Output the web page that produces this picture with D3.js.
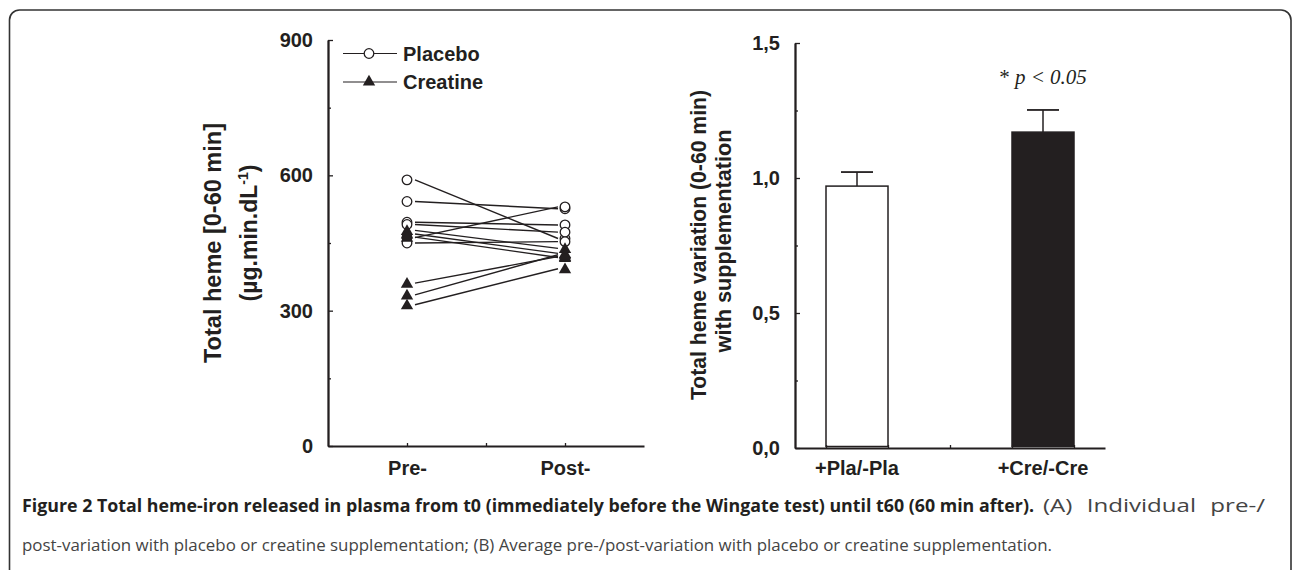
<!DOCTYPE html>
<html>
<head>
<meta charset="utf-8">
<script src="https://cdn.jsdelivr.net/npm/d3@7"></script>
<style>
  html, body { margin: 0; padding: 0; background: #fff; }
  svg { display: block; }
</style>
</head>
<body>
<svg id="chart" width="1292" height="570"></svg>
<script>
// ---------- DATA ----------
const timeCategories = ["Pre-", "Post-"];
const placeboPre  = [590, 542, 496, 491, 462, 450];
const placeboPost = [460, 526, 490, 474, 530, 453];
const creatinePre  = [478, 470, 463, 361, 335, 313];
const creatinePost = [438, 427, 418, 420, 424, 393];
const leftTicks = [0, 300, 600, 900];
const leftMinorTicks = [150, 450, 750];

const barCategories = ["+Pla/-Pla", "+Cre/-Cre"];
const barMeans  = [0.97, 1.17];
const barErrors = [0.052, 0.082];
const barFills  = ["#ffffff", "#231f20"];
const rightTicks = [0, 0.5, 1.0, 1.5];
const rightTickLabels = ["0,0", "0,5", "1,0", "1,5"];
const rightMinorTicks = [0.25, 0.75, 1.25];

const legendItems = ["Placebo", "Creatine"];
const captionBold = "Figure 2 Total heme-iron released in plasma from t0 (immediately before the Wingate test) until t60 (60 min after).";
const captionRest1 = "(A) Individual pre-/";
const captionLine2 = "post-variation with placebo or creatine supplementation; (B) Average pre-/post-variation with placebo or creatine supplementation.";

// ---------- SETUP ----------
const ink = "#231f20";
const svg = d3.select("#chart");
const font = "'Liberation Sans', Arial, Helvetica, sans-serif";
const tickFont = 20;

// frame
svg.append("path")
  .attr("d", "M9.5,570 V20 A10,10 0 0 1 19.5,10 H1281 A10,10 0 0 1 1291,20 V570")
  .attr("fill", "none").attr("stroke", "#333").attr("stroke-width", 1.6);

function styleAxis(g) {
  g.select(".domain").attr("stroke", ink).attr("stroke-width", 1.8);
  g.selectAll(".tick line").attr("stroke", ink).attr("stroke-width", 1.3);
  g.selectAll(".tick text").attr("fill", ink).attr("font-family", font)
    .attr("font-weight", "bold").attr("font-size", tickFont);
}

// ---------- LEFT PANEL ----------
const xL = d3.scaleLinear().domain([0, 4]).range([328, 644]);
const yL = d3.scaleLinear().domain([0, 900]).range([446, 40]);
const catPos = {"Pre-": 1, "Post-": 3};

const gL = svg.append("g");
gL.append("g").attr("transform", `translate(${xL(0)},0)`)
  .call(d3.axisLeft(yL).tickValues(leftMinorTicks).tickSizeInner(-3).tickSizeOuter(0).tickFormat(""))
  .call(styleAxis);
gL.append("g").attr("transform", `translate(${xL(0)},0)`)
  .call(d3.axisLeft(yL).tickValues(leftTicks).tickSizeInner(-5).tickSizeOuter(0).tickPadding(15).tickFormat(d3.format("d")))
  .call(styleAxis);
gL.append("g").attr("transform", `translate(0,${yL(0)})`)
  .call(d3.axisBottom(xL).tickValues([1, 2, 3]).tickSizeInner(-3).tickSizeOuter(0).tickPadding(15)
    .tickFormat(d => d === 1 ? timeCategories[0] : d === 3 ? timeCategories[1] : ""))
  .call(styleAxis);

// connecting lines
const pairs = [];
placeboPre.forEach((v, i) => pairs.push({pre: v, post: placeboPost[i], type: "p"}));
creatinePre.forEach((v, i) => pairs.push({pre: v, post: creatinePost[i], type: "c"}));
gL.append("g").selectAll("line").data(pairs).join("line")
  .attr("x1", xL(catPos["Pre-"]) + 8).attr("x2", xL(catPos["Post-"]) - 7)
  .attr("y1", d => yL(d.pre)).attr("y2", d => yL(d.post))
  .attr("stroke", ink).attr("stroke-width", 1.4);

const tri = d3.symbol().type(d3.symbolTriangle).size(66);
function drawCircles(g, xv, vals) {
  g.append("g").selectAll("circle").data(vals).join("circle")
    .attr("cx", xv).attr("cy", d => yL(d)).attr("r", 4.8)
    .attr("fill", "#fff").attr("stroke", ink).attr("stroke-width", 1.3);
}
function drawTriangles(g, xv, vals) {
  g.append("g").selectAll("path").data(vals).join("path")
    .attr("d", tri).attr("transform", d => `translate(${xv},${yL(d) + 1})`)
    .attr("fill", ink);
}
drawCircles(gL, xL(catPos["Pre-"]), placeboPre);
drawTriangles(gL, xL(catPos["Pre-"]), creatinePre);
drawCircles(gL, xL(catPos["Post-"]), placeboPost);
drawTriangles(gL, xL(catPos["Post-"]), creatinePost);

// legend
const leg = gL.append("g");
legendItems.forEach((name, i) => {
  const y = 53.5 + i * 28.5;
  leg.append("line").attr("x1", 343).attr("x2", 397).attr("y1", y).attr("y2", y)
    .attr("stroke", ink).attr("stroke-width", 1.2);
  if (i === 0) {
    leg.append("circle").attr("cx", 369).attr("cy", y).attr("r", 4.8)
      .attr("fill", "#fff").attr("stroke", ink).attr("stroke-width", 1.3);
  } else {
    leg.append("path").attr("d", tri).attr("transform", `translate(369,${y})`).attr("fill", ink);
  }
  leg.append("text").attr("x", 403).attr("y", y + 7).text(name)
    .attr("font-family", font).attr("font-weight", "bold").attr("font-size", 20).attr("fill", ink);
});

// left y title
gL.append("text").attr("transform", "translate(221,243) rotate(-90)")
  .attr("text-anchor", "middle").attr("font-family", font).attr("font-weight", "bold")
  .attr("font-size", 23).attr("fill", ink)
  .attr("textLength", 240).attr("lengthAdjust", "spacingAndGlyphs").text("Total heme [0-60 min]");
const tL2 = gL.append("text").attr("transform", "translate(257,233) rotate(-90)")
  .attr("text-anchor", "middle").attr("font-family", font).attr("font-weight", "bold")
  .attr("font-size", 23).attr("fill", ink);
tL2.append("tspan").text("(\u00b5g.min.dL");
tL2.append("tspan").attr("dy", -9).attr("font-size", 14).text("-1");
tL2.append("tspan").attr("dy", 9).text(")");

// ---------- RIGHT PANEL ----------
const xR = d3.scaleLinear().domain([0, 5]).range([795, 1105]);
const yR = d3.scaleLinear().domain([0, 1.5]).range([448, 43]);
const barStart = [0.5, 3.5];
const gR = svg.append("g");

gR.append("g").attr("transform", `translate(${xR(0)},0)`)
  .call(d3.axisLeft(yR).tickValues(rightMinorTicks).tickSizeInner(-3).tickSizeOuter(0).tickFormat(""))
  .call(styleAxis);
gR.append("g").attr("transform", `translate(${xR(0)},0)`)
  .call(d3.axisLeft(yR).tickValues(rightTicks).tickSizeInner(-5).tickSizeOuter(0).tickPadding(15)
    .tickFormat((d, i) => rightTickLabels[i]))
  .call(styleAxis);

// bars
gR.append("g").selectAll("rect").data(barMeans).join("rect")
  .attr("x", (d, i) => xR(barStart[i])).attr("width", (d, i) => xR(barStart[i] + 1) - xR(barStart[i]))
  .attr("y", d => yR(d)).attr("height", d => yR(0) - yR(d) - 1.5)
  .attr("fill", (d, i) => barFills[i]).attr("stroke", ink).attr("stroke-width", 1.5);
// error bars
const eb = gR.append("g");
barMeans.forEach((m, i) => {
  const cx = xR(barStart[i] + 0.5);
  eb.append("line").attr("x1", cx).attr("x2", cx).attr("y1", yR(m)).attr("y2", yR(m + barErrors[i]))
    .attr("stroke", ink).attr("stroke-width", 1.5);
  eb.append("line").attr("x1", cx - 16).attr("x2", cx + 16)
    .attr("y1", yR(m + barErrors[i])).attr("y2", yR(m + barErrors[i]))
    .attr("stroke", ink).attr("stroke-width", 1.8);
});

gR.append("g").attr("transform", `translate(0,${yR(0)})`)
  .call(d3.axisBottom(xR).tickValues([0.5, 1.5, 2.5, 3.5, 4.5]).tickSizeInner(-3).tickSizeOuter(0).tickFormat(""))
  .call(styleAxis);
gR.append("g").selectAll("text").data(barCategories).join("text")
  .attr("x", (d, i) => xR(barStart[i] + 0.5)).attr("y", yR(0) + 27)
  .attr("text-anchor", "middle").attr("font-family", font).attr("font-weight", "bold")
  .attr("font-size", tickFont).attr("fill", ink).text(d => d);

// significance
const sig = gR.append("text").attr("x", xR(barStart[1] + 0.5)).attr("y", 84)
  .attr("text-anchor", "middle").attr("font-family", "'Liberation Serif', 'Times New Roman', serif")
  .attr("font-size", 21).attr("fill", ink);
sig.append("tspan").text("* ");
sig.append("tspan").attr("font-style", "italic").text("p < 0.05");

// right y title
gR.append("text").attr("transform", "translate(706,245) rotate(-90)")
  .attr("text-anchor", "middle").attr("font-family", font).attr("font-weight", "bold")
  .attr("font-size", 21.5).attr("fill", ink)
  .attr("textLength", 310).attr("lengthAdjust", "spacingAndGlyphs").text("Total heme variation (0-60 min)");
gR.append("text").attr("transform", "translate(731,241) rotate(-90)")
  .attr("text-anchor", "middle").attr("font-family", font).attr("font-weight", "bold")
  .attr("font-size", 21.5).attr("fill", ink)
  .attr("textLength", 223).attr("lengthAdjust", "spacingAndGlyphs").text("with supplementation");

// ---------- CAPTION ----------
const capFont = "'Open Sans', 'Noto Sans', sans-serif";
svg.append("text").attr("x", 22).attr("y", 512).attr("font-family", capFont)
  .attr("font-weight", "bold").attr("font-size", 17).attr("fill", ink)
  .attr("textLength", 1012).attr("lengthAdjust", "spacingAndGlyphs").text(captionBold);
svg.append("text").attr("x", 1043).attr("y", 512).attr("font-family", capFont)
  .attr("font-size", 18).attr("fill", "#444").attr("word-spacing", 6)
  .attr("textLength", 222).attr("lengthAdjust", "spacingAndGlyphs").text(captionRest1);
svg.append("text").attr("x", 22).attr("y", 551).attr("font-family", capFont)
  .attr("font-size", 17).attr("fill", "#444")
  .attr("textLength", 1030).attr("lengthAdjust", "spacingAndGlyphs").text(captionLine2);
</script>
</body>
</html>
